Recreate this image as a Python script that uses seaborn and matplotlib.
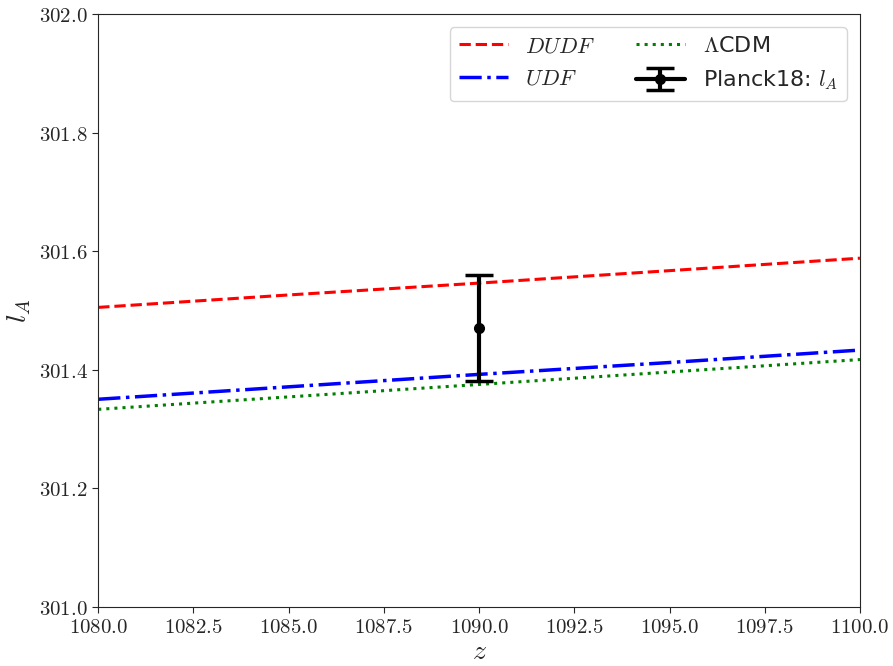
import matplotlib
matplotlib.use("Agg")
import matplotlib.pyplot as plt
import matplotlib.ticker as mticker
import seaborn as sns
import pandas as pd

z = [1080.0, 1085.0, 1090.0, 1095.0, 1100.0]
la_dudf = [301.505, 301.526, 301.546, 301.567, 301.588]
la_udf = [301.350, 301.371, 301.392, 301.412, 301.433]
la_lcdm = [301.333, 301.354, 301.375, 301.396, 301.417]
planck_z = [1090.0]
planck_la = [301.47]
planck_err = [0.09]

sns.set_style("ticks")
plt.rcParams['mathtext.fontset'] = 'cm'
plt.rcParams['font.family'] = ['DejaVu Sans']

fig, ax = plt.subplots(figsize=(8.93, 6.66), dpi=100)
fig.subplots_adjust(left=0.11, right=0.963, top=0.979, bottom=0.089)

sns.lineplot(x=z, y=la_dudf, ax=ax, color='red', linestyle='--', linewidth=2.2, label=r'$DUDF$')
sns.lineplot(x=z, y=la_udf, ax=ax, color='blue', linestyle='-.', linewidth=2.5, label=r'$UDF$')
sns.lineplot(x=z, y=la_lcdm, ax=ax, color='green', linestyle=':', linewidth=2.2, label=r'$\Lambda$CDM')
ax.errorbar(planck_z, planck_la, yerr=planck_err, fmt='o-', color='black', ecolor='black',
            linewidth=3, elinewidth=3, capsize=10, capthick=2.5, markersize=7,
            label=r'Planck18: $l_A$')

ax.set_xlim(1080, 1100)
ax.set_ylim(301.0, 302.0)
ax.xaxis.set_major_locator(mticker.MultipleLocator(2.5))
ax.yaxis.set_major_locator(mticker.MultipleLocator(0.2))
fmt = mticker.FuncFormatter(lambda v, p: f'${v:.1f}$')
ax.xaxis.set_major_formatter(fmt)
ax.yaxis.set_major_formatter(fmt)
ax.tick_params(labelsize=15, direction='out', length=4)
ax.set_xlabel(r'$z$', fontsize=20, labelpad=0)
ax.set_ylabel(r'$l_A$', fontsize=20, labelpad=4)

ax.legend(ncol=2, loc='upper right', fontsize=16, handlelength=2.2, columnspacing=1.8,
          labelspacing=0.55, borderaxespad=0.6)

fig.savefig('out.png', dpi=100)
